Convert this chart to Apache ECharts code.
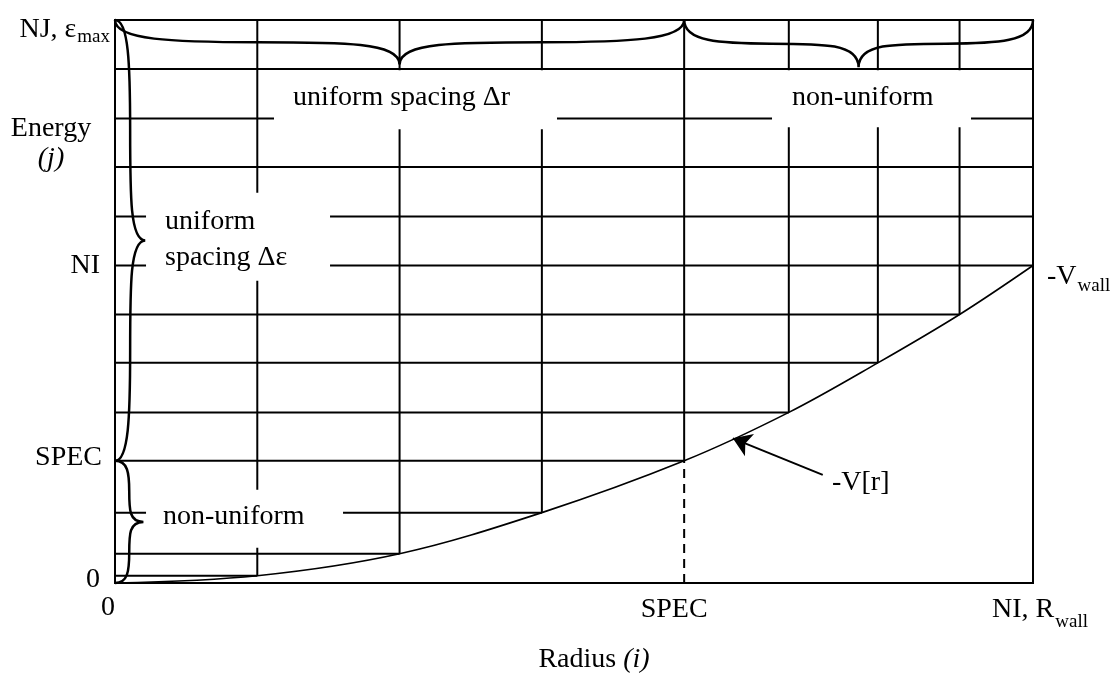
<!DOCTYPE html>
<html><head><meta charset="utf-8">
<script src="https://cdn.jsdelivr.net/npm/echarts@6/dist/echarts.min.js"></script>
<style>html,body{margin:0;padding:0;background:#fff}#c{width:1115px;height:681px}</style>
</head><body><div id="c"></div>
<script>
// ---- data (radius 0..100 = NI/R_wall, energy 0..100 = NJ/eps_max) ----
const radii = [0, 15.5, 31, 46.5, 62, 73.4, 83.1, 92, 100];
const potential = [0, 1.3, 5.2, 12.5, 21.7, 30.3, 39.1, 47.7, 56.4];   // -V[r] at each radius
const energies = [0, 1.3, 5.2, 12.5, 21.7, 30.3, 39.1, 47.7, 56.4, 65.1, 73.9, 82.5, 91.3, 100];
const SPEC_IDX = 4;
const xTickValues = [0, 62, 100];
const xTickLabels = ['{x0|0}', '{xs|SPEC}', '{xn|NI, R}{xw|wall}'];
const yTickValues = [0, 21.7, 56.4, 100];
const yTickLabels = ['{y0|0}', '{ys|SPEC}', '{yn|NI}', '{yj|NJ, ε}{ym|max}'];
// braces: [x1, y1, x2, y2, tipX, tipY]
const braces = [
  [0, 100, 62, 100, 31, 92.1],
  [62, 100, 100, 100, 81, 91.6],
  [0, 100, 0, 21.7, 3.3, 60.85],
  [0, 21.7, 0, 0, 3.1, 10.85]
];
const arrowFrom = [77.1, 19.2];
const arrowTo = [67.3, 25.7];
// annotation anchors (data coords)
const notes = [
  {text: 'uniform spacing Δr', at: [17.32, 85.85], pad: [11, 0, 16, 19], w: 264, lh: 32, bg: true},
  {text: 'non-uniform', at: [71.57, 86.03], pad: [11, 0, 14, 20], w: 179, lh: 32, bg: true},
  {text: 'uniform\nspacing Δε', at: [3.38, 61.51], pad: [11, 0, 5, 19], w: 165, lh: 36, bg: true},
  {text: 'non-uniform', at: [3.38, 11.42], pad: [11, 0, 15, 17], w: 180, lh: 32, bg: true},
  {text: '-V[r]', at: [78.1, 17.75], pad: [0, 0, 0, 0], lh: 32, bg: false},
  {text: '{n|-V}{w|wall}', at: [101.53, 54.04], pad: [0, 0, 0, 0], lh: 32, bg: false}
];

// ---- derived segments ----
const hSeg = [];
energies.forEach(e => {
  if (e === 0 || e === 100) return;
  const k = potential.indexOf(e);
  hSeg.push([0, e, k >= 0 ? radii[k] : 100, e]);
});
const vSeg = [];
radii.forEach((r, i) => {
  if (i === 0 || i === radii.length - 1) return;
  vSeg.push([r, potential[i], r, 100]);
});
const dashSeg = [[radii[SPEC_IDX], 0, radii[SPEC_IDX], potential[SPEC_IDX]]];
const curve = radii.map((r, i) => [r, potential[i]]);

const F = "'Liberation Serif','Times New Roman',serif";

function segItem(dash) {
  return function (params, api) {
    const p1 = api.coord([api.value(0), api.value(1)]);
    const p2 = api.coord([api.value(2), api.value(3)]);
    return {type: 'line', shape: {x1: p1[0], y1: p1[1], x2: p2[0], y2: p2[1]},
      style: {stroke: '#000', lineWidth: 2, lineDash: dash || null, fill: null}};
  };
}
function braceItem(params, api) {
  const p1 = api.coord([api.value(0), api.value(1)]);
  const p2 = api.coord([api.value(2), api.value(3)]);
  const t = api.coord([api.value(4), api.value(5)]);
  const m = [(p1[0] + p2[0]) / 2, (p1[1] + p2[1]) / 2];
  const d = [t[0] - m[0], t[1] - m[1]];
  function half(p) {
    const w = [m[0] - p[0], m[1] - p[1]];
    const q = [p[0] + w[0] * 0.5 + d[0] * 0.5, p[1] + w[1] * 0.5 + d[1] * 0.5];
    const c1 = [p[0] + d[0] * 0.45, p[1] + d[1] * 0.45];
    const c2 = [q[0] - w[0] * 0.3, q[1] - w[1] * 0.3];
    const c3 = [q[0] + w[0] * 0.3, q[1] + w[1] * 0.3];
    const c4 = [m[0] + d[0] * 0.5, m[1] + d[1] * 0.5];
    return 'M' + p[0] + ' ' + p[1] + ' C' + c1.join(' ') + ' ' + c2.join(' ') + ' ' + q.join(' ') +
      ' C' + c3.join(' ') + ' ' + c4.join(' ') + ' ' + t.join(' ');
  }
  return {type: 'path', shape: {pathData: half(p1) + ' ' + half(p2)},
    style: {stroke: '#000', lineWidth: 2.5, fill: 'none'}};
}

const chart = echarts.init(document.getElementById('c'), null, {renderer: 'canvas'});
chart.setOption({
  backgroundColor: '#fff',
  animation: false,
  grid: {left: 115, right: 82, top: 20, bottom: 92, show: true, borderColor: '#000', borderWidth: 2, backgroundColor: 'transparent'},
  xAxis: {
    type: 'value', min: 0, max: 100,
    axisLine: {show: false}, axisTick: {show: false}, splitLine: {show: false},
    name: 'Radius {i|(i)}', nameLocation: 'middle', nameGap: 61,
    nameTextStyle: {fontFamily: F, fontSize: 28, color: '#000', lineHeight: 32, padding: [0, 0, 0, 40],
      rich: {i: {fontFamily: F, fontSize: 28, fontStyle: 'italic', color: '#000', lineHeight: 32}}},
    axisLabel: {
      customValues: xTickValues, margin: 9, fontFamily: F, fontSize: 28, color: '#000',
      formatter: v => xTickLabels[xTickValues.indexOf(v)] || '',
      rich: {
        x0: {fontFamily: F, fontSize: 28, color: '#000', lineHeight: 32, padding: [0, 14, 0, 0]},
        xs: {fontFamily: F, fontSize: 28, color: '#000', lineHeight: 32, padding: [4, 20, 0, 0]},
        xn: {fontFamily: F, fontSize: 28, color: '#000', lineHeight: 32, padding: [4, 0, 0, 14], verticalAlign: 'top'},
        xw: {fontFamily: F, fontSize: 19, color: '#000', lineHeight: 19, padding: [21, 0, 0, 1], verticalAlign: 'top'}
      }
    }
  },
  yAxis: {
    type: 'value', min: 0, max: 100,
    axisLine: {show: false}, axisTick: {show: false}, splitLine: {show: false},
    axisLabel: {
      customValues: yTickValues, margin: 5, fontFamily: F, fontSize: 28, color: '#000',
      formatter: v => yTickLabels[yTickValues.indexOf(v)] || '',
      rich: {
        y0: {fontFamily: F, fontSize: 28, color: '#000', lineHeight: 32, padding: [0, 10, 6, 0]},
        ys: {fontFamily: F, fontSize: 28, color: '#000', lineHeight: 32, padding: [0, 8, 6, 0]},
        yn: {fontFamily: F, fontSize: 28, color: '#000', lineHeight: 32, padding: [0, 10, 0, 0]},
        yj: {fontFamily: F, fontSize: 28, color: '#000', lineHeight: 32, padding: [12, 0, 0, 0], verticalAlign: 'top'},
        ym: {fontFamily: F, fontSize: 19, color: '#000', lineHeight: 19, padding: [24, 0, 0, 1], verticalAlign: 'top'}
      }
    }
  },
  graphic: [{
    type: 'text', x: 51, y: 144, silent: true,
    style: {text: '{n|Energy}\n{i|(j)}', align: 'center', verticalAlign: 'middle', fill: '#000',
      rich: {n: {fontFamily: F, fontSize: 28, lineHeight: 30, fill: '#000'},
             i: {fontFamily: F, fontSize: 28, fontStyle: 'italic', lineHeight: 30, fill: '#000'}}}
  }],
  series: [
    {type: 'custom', silent: true, z: 2, renderItem: segItem(), data: hSeg.concat(vSeg), encode: {x: [0, 2], y: [1, 3]}},
    {type: 'custom', silent: true, z: 2, renderItem: segItem([9, 6]), data: dashSeg, encode: {x: [0, 2], y: [1, 3]}},
    {type: 'line', silent: true, z: 3, data: curve, smooth: 0.35, symbol: 'none',
      lineStyle: {color: '#000', width: 1.6},
      markLine: {silent: true, symbol: ['none', 'arrow'], symbolSize: 18, label: {show: false},
        lineStyle: {color: '#000', width: 2, type: 'solid'},
        data: [[{coord: arrowFrom}, {coord: arrowTo}]]}},
    {type: 'custom', silent: true, z: 4, renderItem: braceItem, data: braces, encode: {x: [0, 2, 4], y: [1, 3, 5]}},
    {type: 'scatter', silent: true, z: 10, clip: false, symbolSize: 0, itemStyle: {color: '#000', opacity: 1},
      data: notes.map(n => ({
        name: n.text, value: n.at,
        label: {show: true, position: 'inside', align: 'left', verticalAlign: 'middle', opacity: 1,
          formatter: '{b}', fontFamily: F, fontSize: 28, color: '#000', lineHeight: n.lh,
          padding: n.pad, width: n.w, backgroundColor: n.bg ? '#fff' : 'transparent',
          rich: {n: {fontFamily: F, fontSize: 28, color: '#000', lineHeight: 32, verticalAlign: 'top'},
                 w: {fontFamily: F, fontSize: 19, color: '#000', lineHeight: 19, padding: [14, 0, 0, 1], verticalAlign: 'top'}}}
      }))}
  ]
});
</script></body></html>
